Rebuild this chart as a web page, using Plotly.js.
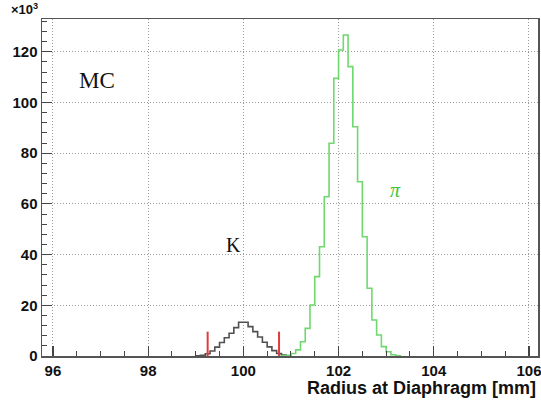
<!DOCTYPE html>
<html>
<head>
<meta charset="utf-8">
<script src="https://cdn.plot.ly/plotly-3.0.1.min.js"></script>
<style>html,body{margin:0;padding:0;background:#fff;}#chart{width:541px;height:404px;}</style>
</head>
<body>
<div id="chart"></div>
<script>
// Bin width (mm) shared by both histograms
const binWidth = 0.1;

// Kaon histogram: first bin low edge and counts (x10^3)
const kaonStart = 99.0;
const kaonCounts = [0.1, 0.3, 0.9, 2.0, 3.5, 5.3, 7.2, 9.0, 11.2, 13.3, 13.3, 11.6, 9.6, 7.5, 5.4, 3.6, 2.1, 1.0, 0.4, 0.1];

// Pion histogram: first bin low edge and counts (x10^3)
const pionStart = 100.8;
const pionCounts = [0.1, 0.3, 1.0, 2.4, 5.6, 10.9, 20.1, 31.3, 43.1, 62.8, 83.9, 109.5, 120.7, 126.6, 114.1, 90.4, 68.7, 47.0, 26.7, 14.2, 8.3, 3.7, 1.7, 0.5, 0.1];

// Selection cut markers (mm) and their drawn height (x10^3)
const cutPositions = [99.25, 100.75];
const cutHeight = 9.6;

// Axis ticks
const xTicks = [96, 98, 100, 102, 104, 106];
const yTicks = [0, 20, 40, 60, 80, 100, 120];

function stepTrace(start, counts, color, width) {
  const xs = [start], ys = [0];
  counts.forEach((c, i) => { xs.push(start + i * binWidth); ys.push(c); });
  const end = start + counts.length * binWidth;
  xs.push(end); ys.push(0);
  return {x: xs, y: ys, type: 'scatter', mode: 'lines',
          line: {shape: 'hv', color: color, width: width}, hoverinfo: 'skip', showlegend: false};
}

const traces = [
  stepTrace(kaonStart, kaonCounts, '#505050', 1.6),
  stepTrace(pionStart, pionCounts, '#6fd86f', 1.6)
];
cutPositions.forEach(p => {
  traces.push({x: [p, p], y: [0, cutHeight], type: 'scatter', mode: 'lines',
    line: {color: '#e03a3a', width: 2}, hoverinfo: 'skip', showlegend: false});
});

const tickFont = {family: 'Liberation Sans, Arial, sans-serif', size: 15, color: '#111', weight: 'bold'};

const layout = {
  width: 541, height: 404,
  margin: {l: 42, r: 3, t: 19, b: 48},
  paper_bgcolor: '#fff', plot_bgcolor: '#fff',
  showlegend: false,
  xaxis: {
    range: [95.77, 106.19], tickvals: xTicks, ticktext: xTicks.map(String),
    ticks: 'inside', ticklen: 10, tickwidth: 1.2, tickcolor: '#444',
    minor: {dtick: 0.5, ticks: 'inside', ticklen: 5, tickcolor: '#444', tickwidth: 1, showgrid: false},
    showgrid: true, gridcolor: '#9a9a9a', griddash: '1px,2px', gridwidth: 1,
    showline: true, linecolor: '#555', linewidth: 1.5, mirror: true,
    zeroline: false, tickfont: tickFont, ticklabelstandoff: 0, ticklabeloverflow: 'allow'
  },
  yaxis: {
    range: [0, 132.9], tickvals: yTicks, ticktext: yTicks.map(String),
    ticks: 'inside', ticklen: 10, tickwidth: 1.2, tickcolor: '#444',
    minor: {dtick: 4, ticks: 'inside', ticklen: 5, tickcolor: '#444', tickwidth: 1, showgrid: false},
    showgrid: true, gridcolor: '#9a9a9a', griddash: '1px,2px', gridwidth: 1,
    showline: true, linecolor: '#555', linewidth: 1.5, mirror: true,
    zeroline: false, tickfont: tickFont
  },
  annotations: [
    {text: 'Radius at Diaphragm [mm]', xref: 'paper', yref: 'paper', x: 1.0, y: -0.094,
     xanchor: 'right', yanchor: 'middle', showarrow: false,
     font: {family: 'Liberation Sans, Arial, sans-serif', size: 18, color: '#111', weight: 'bold'}},
    {text: '×10<sup>3</sup>', xref: 'paper', yref: 'paper', x: -0.005, y: 1.0,
     xanchor: 'right', yanchor: 'bottom', showarrow: false,
     font: {family: 'Liberation Sans, Arial, sans-serif', size: 13, color: '#111', weight: 'bold'}},
    {text: 'MC', x: 96.93, y: 108.8, xref: 'x', yref: 'y', showarrow: false,
     font: {family: 'Liberation Serif, Times New Roman, serif', size: 23, color: '#111'}},
    {text: 'K', x: 99.79, y: 43.8, xref: 'x', yref: 'y', showarrow: false,
     font: {family: 'Liberation Serif, Times New Roman, serif', size: 20, color: '#111'}},
    {text: '<i>π</i>', x: 103.19, y: 65.5, xref: 'x', yref: 'y', showarrow: false,
     font: {family: 'Liberation Serif, Times New Roman, serif', size: 20, color: '#3bc43b'}}
  ]
};

Plotly.newPlot('chart', traces, layout, {displayModeBar: false, staticPlot: true});
</script>
</body>
</html>
